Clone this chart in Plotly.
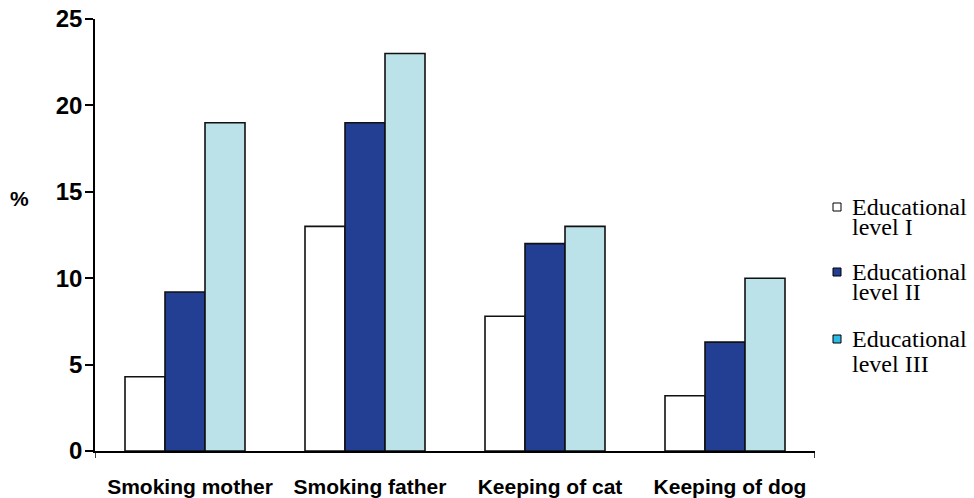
import plotly.graph_objects as go

# Share of children exposed, by parental educational level
categories = ["Smoking mother", "Smoking father", "Keeping of cat", "Keeping of dog"]
level_I = [4.3, 13.0, 7.8, 3.2]
level_II = [9.2, 19.0, 12.0, 6.3]
level_III = [19.0, 23.0, 13.0, 10.0]
y_ticks = [0, 5, 10, 15, 20, 25]

series_names = ["Educational level I", "Educational level II", "Educational level III"]
legend_lines = [["Educational", "level I"], ["Educational", "level II"], ["Educational", "level III"]]
bar_colors = ["#FFFFFF", "#223F94", "#BAE2E8"]
legend_colors = ["#FFFFFF", "#223F94", "#2BBCE6"]

W, H = 974, 498
L, R, T, B = 95, 974 - 815, 19, 498 - 451
PW, PH = W - L - R, H - T - B


def px_x(px):
    return (px - L) / PW


def px_y(py):
    return (H - B - py) / PH


fig = go.Figure()
for name, vals, col in zip(series_names, [level_I, level_II, level_III], bar_colors):
    fig.add_trace(go.Bar(
        x=categories, y=vals, name=name,
        marker=dict(color=col, line=dict(color="#111111", width=1.6)),
        showlegend=False,
    ))

sans = "Liberation Sans, Arial, sans-serif"

fig.update_layout(
    width=W, height=H,
    margin=dict(l=L, r=R, t=T, b=B, pad=0),
    plot_bgcolor="#FFFFFF", paper_bgcolor="#FFFFFF",
    barmode="group", bargap=1 / 3, bargroupgap=0,
    xaxis=dict(
        automargin=False,
        showline=True, linecolor="#000000", linewidth=1.5,
        showgrid=False, zeroline=False, ticks="",
        tickfont=dict(family=sans, size=21, color="#000000", weight="bold"),
        ticklabelshift=5, ticklabelstandoff=16,
        range=[-0.5, 3.5],
    ),
    yaxis=dict(
        automargin=False,
        range=[0, 25], tickvals=y_ticks,
        showline=True, linecolor="#000000", linewidth=1.5,
        showgrid=False, zeroline=False,
        ticks="outside", ticklen=8, tickwidth=1.5, tickcolor="#000000",
        tickfont=dict(family=sans, size=24, color="#000000", weight="bold"),
        ticklabelstandoff=-2,
    ),
)

# small end ticks below the category axis
for xv in [-0.5, 3.5]:
    fig.add_shape(type="line", xref="x", yref="paper", ysizemode="pixel", yanchor=0,
                  x0=xv, x1=xv, y0=0, y1=-7, line=dict(color="#000000", width=1.5))

# axis title
fig.add_annotation(text="<b>%</b>", xref="paper", yref="paper", x=px_x(19.5), y=px_y(199),
                   xanchor="center", yanchor="middle", showarrow=False,
                   font=dict(family=sans, size=21, color="#000000"))

# legend drawn beside the plot
legend_geom = [(833, 203, 215, 235), (833, 268, 280, 300), (833, 335, 347, 372)]
serif = dict(family="Liberation Serif, Times New Roman, serif", size=24, color="#000000")
for (bx, by, b1, b2), lines, col in zip(legend_geom, legend_lines, legend_colors):
    fig.add_shape(type="rect", xref="paper", yref="paper",
                  x0=px_x(bx), x1=px_x(bx + 8), y0=px_y(by), y1=px_y(by + 8),
                  fillcolor=col, line=dict(color="#000000", width=1))
    for txt, base in zip(lines, [b1, b2]):
        fig.add_annotation(text=txt, xref="paper", yref="paper",
                           x=px_x(850), y=px_y(base - 8), xanchor="left", yanchor="middle",
                           showarrow=False, font=serif)

fig.write_html("out.html")
